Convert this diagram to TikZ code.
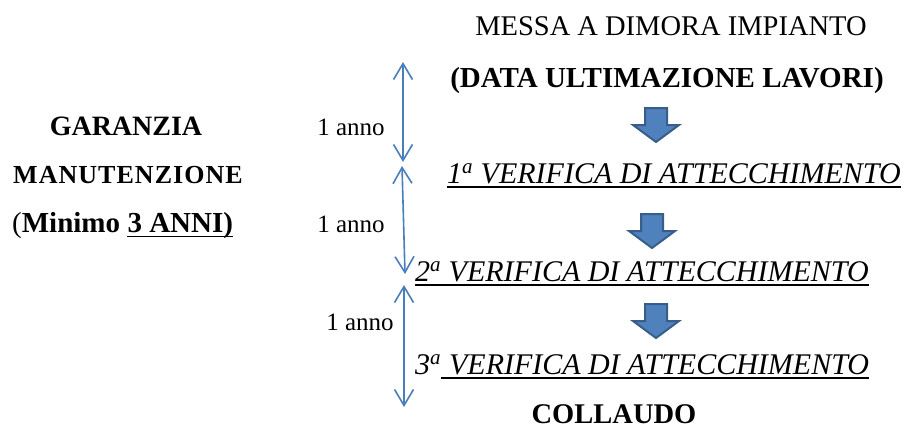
\documentclass[tikz,border=0pt]{standalone}
\usepackage{fontspec}
\setmainfont{Liberation Serif}
\usepackage{xcolor}
\usetikzlibrary{arrows.meta}

\definecolor{yearblue}{HTML}{4A7EBB}
\definecolor{blockfill}{HTML}{4F81BD}
\definecolor{blockedge}{HTML}{385D8A}

% down block arrow, top centre at #1
\newcommand{\blockdown}[1]{%
\draw [blockedge, fill=blockfill, line width=2pt]
(#1) ++(-11,0) -- ++(22,0) -- ++(0,17) -- ++(12,0) -- ++(-23,17)
-- ++(-23,-17) -- ++(12,0) -- cycle;}

\tikzset{
yeararrow/.style={yearblue, line width=1.6pt,
{Straight Barb[length=16pt,width=19pt]}-{Straight Barb[length=16pt,width=19pt]}},
uline/.style={black, line width=1.8pt},
title/.style={anchor=base, inner sep=0pt, font=\fontsize{28.5}{34}\selectfont},
check/.style={anchor=base west, inner sep=0pt, font=\fontsize{30}{36}\selectfont\itshape},
side/.style={anchor=base, inner sep=0pt, font=\fontsize{28}{34}\selectfont\bfseries},
anno/.style={anchor=base, inner sep=0pt, font=\fontsize{25}{30}\selectfont}
}

\begin{document}
\begin{tikzpicture}[x=1pt,y=-1pt]
\useasboundingbox (0,0) rectangle (910,428);

% centre column
\node [title] (messa) at (671,36) {MESSA A DIMORA IMPIANTO};
\node [title, font=\fontsize{29}{34}\selectfont\bfseries] (data) at (667,88) {(DATA ULTIMAZIONE LAVORI)};
\node [check] (ver1) at (447,183) {1\textsuperscript{a} VERIFICA DI ATTECCHIMENTO};
\node [check] (ver2) at (415,281) {2\textsuperscript{a} VERIFICA DI ATTECCHIMENTO};
\node [check] (num3) at (415,374) {3\textsuperscript{a}};
\node [check] (ver3) at (num3.base east) {\ VERIFICA DI ATTECCHIMENTO};
\node [title, font=\fontsize{28.5}{34}\selectfont\bfseries] (collaudo) at (614,423) {COLLAUDO};

\draw [uline] ([yshift=-4pt]ver1.base west) -- ([yshift=-4pt]ver1.base east);
\draw [uline] ([yshift=-4pt]ver2.base west) -- ([yshift=-4pt]ver2.base east);
\draw [uline] ([yshift=-4pt]ver3.base west) -- ([yshift=-4pt]ver3.base east);

\blockdown{656,108}
\blockdown{652,214}
\blockdown{656,304}

% left column
\node [side] (garanzia) at (126,135) {GARANZIA};
\node [side, font=\fontsize{26}{30}\selectfont\bfseries\addfontfeature{LetterSpace=4}] (manut) at (128,183) {MANUTENZIONE};
\node [side, anchor=base west, font=\fontsize{29}{34}\selectfont] (minimo) at (12,232) {(\textbf{Minimo}};
\node [side, anchor=base west, font=\fontsize{29}{34}\selectfont\bfseries] (anni) at ([xshift=7pt]minimo.base east) {3 ANNI)};
\draw [uline] ([yshift=-4.5pt]anni.base west) -- ([yshift=-4.5pt]anni.base east);

% years
\coordinate (y0) at (403,62);
\coordinate (y1) at (403,162);
\coordinate (y2) at (402,166);
\coordinate (y3) at (405,274);
\coordinate (y4) at (404,285);
\coordinate (y5) at (404,407);
\draw [yeararrow] (y0) -- (y1);
\draw [yeararrow] (y2) -- (y3);
\draw [yeararrow] (y4) -- (y5);

\node [anno] (anno1) at (351,135) {1 anno};
\node [anno] (anno2) at (351,232) {1 anno};
\node [anno] (anno3) at (360,330) {1 anno};

\end{tikzpicture}
\end{document}
